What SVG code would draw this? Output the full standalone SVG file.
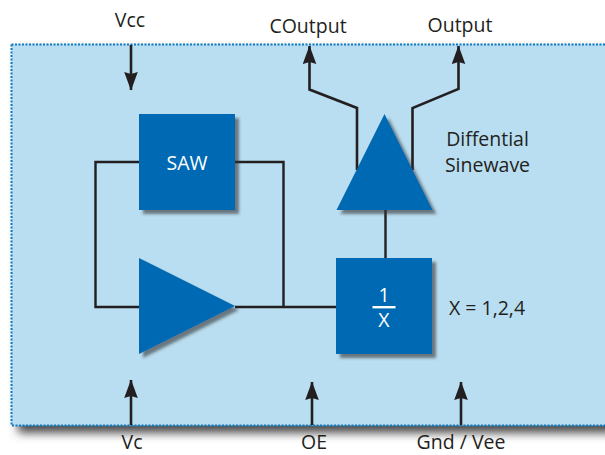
<svg xmlns="http://www.w3.org/2000/svg" width="605" height="455" viewBox="0 0 605 455">
<defs>
<style>
text{font-family:"Open Sans","Noto Sans","Liberation Sans",sans-serif;font-size:19.5px;fill:#231f20;text-anchor:middle}
.w{fill:#fff}
.wire{fill:none;stroke:#231f20;stroke-width:2.4;stroke-linejoin:miter}
.arr{fill:none;stroke:#231f20;stroke-width:2.6;marker-end:url(#h)}
.b{fill:#0069b4;filter:url(#s)}
</style>
<marker id="h" markerUnits="userSpaceOnUse" markerWidth="20" markerHeight="14" refX="18" refY="7" orient="auto" viewBox="0 0 20 14"><path d="M18.500 7L0 0.200L2 7L0 13.800Z" fill="#231f20"/></marker>
<filter id="s" x="-20%" y="-20%" width="140%" height="140%"><feDropShadow dx="4" dy="4" stdDeviation="1.600" flood-color="#333" flood-opacity=".6"/></filter>
<filter id="p" x="-5%" y="-5%" width="110%" height="110%"><feGaussianBlur stdDeviation="5"/></filter>
</defs>
<rect width="605" height="455" fill="#fff"/>
<g id="panel">
<rect x="18" y="50" width="600" height="383" fill="#4d4b48" filter="url(#p)"/>
<rect x="11.500" y="44.500" width="600" height="381" fill="#b9def1"/>
<path d="M11.500 44.500H605M11.500 44.500V425.500H605" fill="none" stroke="#0a7ac4" stroke-width="2" stroke-dasharray="2 1.500"/>
</g>
<g id="connectors">
<path class="wire" d="M139 162H95.500V307H139M235 162H283.500V307M235 307H336M385.500 210V258"/>
<path class="arr" d="M357 170V108L309.500 89.500V46"/>
<path class="arr" d="M412.500 170V108L458.500 89V46"/>
<path class="arr" d="M131 45V90"/>
<path class="arr" d="M131 425V380"/>
<path class="arr" d="M312 425V382"/>
<path class="arr" d="M461 425V382"/>
</g>
<g id="saw"><rect class="b" x="139" y="114" width="96" height="96"/><text class="w" x="187" y="170">SAW</text></g>
<g id="amplifier"><path class="b" d="M139 258L235 306L139 354Z"/></g>
<g id="buffer"><path class="b" d="M384.500 114L432.500 210H336.500Z"/></g>
<g id="divider"><rect class="b" x="336" y="258" width="96" height="96"/><text class="w" x="384" y="302">1</text><rect x="372.500" y="306" width="23" height="2.400" fill="#fff"/><text class="w" x="384" y="327">X</text></g>
<g id="labels">
<text x="130" y="27">Vcc</text>
<text x="308" y="33">COutput</text>
<text x="460" y="32">Output</text>
<text x="487.500" y="146">Diffential</text>
<text x="487.500" y="172">Sinewave</text>
<text x="487" y="315">X = 1,2,4</text>
<text x="132" y="449">Vc</text>
<text x="314" y="449">OE</text>
<text x="461" y="449">Gnd / Vee</text>
</g>
</svg>
